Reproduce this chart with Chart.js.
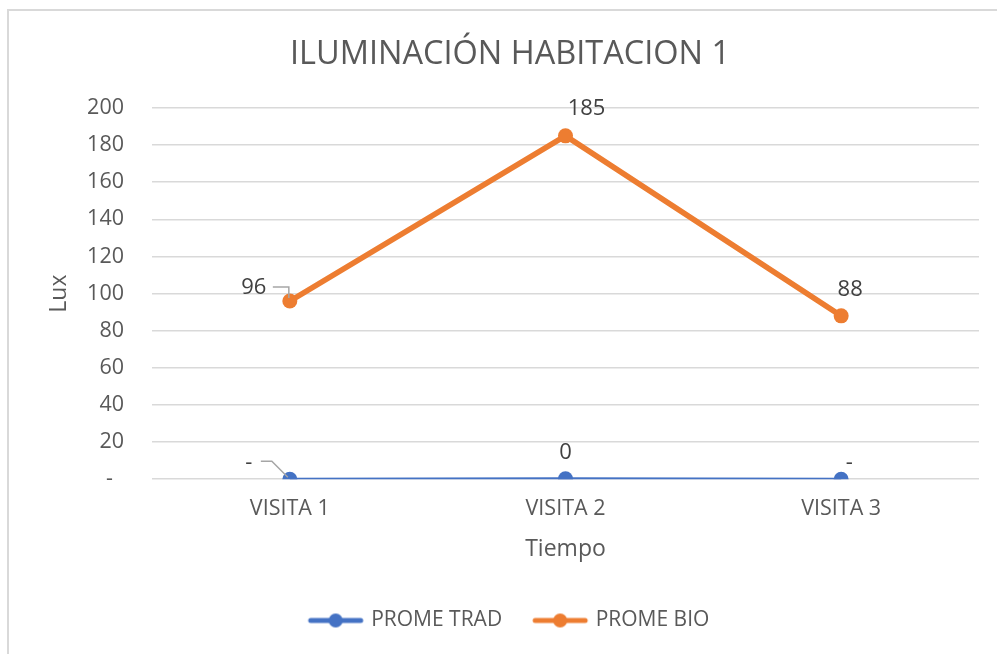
<!DOCTYPE html>
<html>
<head>
<meta charset="utf-8">
<script src="https://cdn.jsdelivr.net/npm/chart.js@4"></script>
<style>
    html, body { margin: 0; padding: 0; background: #fff; overflow: hidden; }
    #chart { display: block; }
</style>
</head>
<body>
<canvas id="chart" width="1012" height="654"></canvas>
<script>
const categories = ['VISITA 1', 'VISITA 2', 'VISITA 3'];
const promeTrad = [0, 0.2, 0];
const promeBio = [96, 185, 88];
const seriesNames = ['PROME TRAD', 'PROME BIO'];

const BLUE = '#4472C4';
const ORANGE = '#ED7D31';
const TEXT = '#595959';
const FONT = "'Open Sans', sans-serif";

// Accounting-style number: zero shows as a dash
const fmt = v => v === 0 ? '-' : String(Math.round(v));

// Legend swatch: short line with a dot in the middle
function legendSwatch(color) {
    const c = document.createElement('canvas');
    c.width = 58;
    c.height = 16;
    const ctx = c.getContext('2d');
    ctx.strokeStyle = color;
    ctx.lineWidth = 5;
    ctx.lineCap = 'round';
    ctx.beginPath();
    ctx.moveTo(4, 8);
    ctx.lineTo(54, 8);
    ctx.stroke();
    ctx.fillStyle = color;
    ctx.beginPath();
    ctx.arc(29, 8, 7, 0, Math.PI * 2);
    ctx.fill();
    return c;
}

// Chart frame (thin grey border, top and left)
const framePlugin = {
    id: 'frame',
    beforeDraw(chart) {
        const ctx = chart.ctx;
        ctx.save();
        ctx.fillStyle = '#fff';
        ctx.fillRect(0, 0, chart.width, chart.height);
        ctx.strokeStyle = '#d9d9d9';
        ctx.lineWidth = 2;
        ctx.beginPath();
        ctx.moveTo(8, chart.height);
        ctx.lineTo(8, 10);
        ctx.lineTo(chart.width, 10);
        ctx.stroke();
        ctx.restore();
    }
};

// Value labels next to points, with optional leader lines
const valueLabels = {
    id: 'valueLabels',
    afterDatasetsDraw(chart, args, opts) {
        const ctx = chart.ctx;
        ctx.save();
        ctx.font = opts.font;
        ctx.fillStyle = opts.color;
        ctx.textAlign = 'center';
        ctx.textBaseline = 'middle';
        chart.data.datasets.forEach((ds, di) => {
            const meta = chart.getDatasetMeta(di);
            meta.data.forEach((pt, i) => {
                const place = opts.places[di][i];
                ctx.fillText(fmt(ds.data[i]), pt.x + place.dx, pt.y + place.dy);
                if (place.leader) {
                    ctx.strokeStyle = '#a6a6a6';
                    ctx.lineWidth = 1.5;
                    ctx.beginPath();
                    place.leader.forEach((p, k) => {
                        const fn = k === 0 ? 'moveTo' : 'lineTo';
                        ctx[fn](pt.x + p[0], pt.y + p[1]);
                    });
                    ctx.stroke();
                }
            });
        });
        ctx.restore();
    }
};

new Chart(document.getElementById('chart'), {
    type: 'line',
    data: {
        labels: categories,
        datasets: [{
            label: seriesNames[0],
            data: promeTrad,
            borderColor: BLUE,
            backgroundColor: BLUE,
            borderWidth: 3,
            pointRadius: 7.5,
            pointBorderWidth: 0,
            tension: 0
        }, {
            label: seriesNames[1],
            data: promeBio,
            borderColor: ORANGE,
            backgroundColor: ORANGE,
            borderWidth: 5.5,
            pointRadius: 7.5,
            pointBorderWidth: 0,
            tension: 0
        }]
    },
    options: {
        responsive: false,
        animation: false,
        layout: {
            padding: { top: 10, left: 8, right: 0, bottom: 13 }
        },
        scales: {
            x: {
                offset: true,
                grid: { display: false, drawTicks: false },
                border: { display: false },
                ticks: {
                    color: TEXT,
                    font: { family: FONT, size: 21.5 },
                    padding: 17
                },
                title: {
                    display: true,
                    text: 'Tiempo',
                    color: TEXT,
                    font: { family: FONT, size: 23 },
                    padding: { top: 0, bottom: 14 }
                },
                afterFit: s => { s.height = 97.8; }
            },
            y: {
                min: 0,
                max: 200,
                grid: {
                    color: '#d9d9d9',
                    lineWidth: 1.6,
                    drawTicks: false
                },
                border: { display: false },
                ticks: {
                    stepSize: 20,
                    color: TEXT,
                    font: { family: FONT, size: 21.5 },
                    padding: 28,
                    callback: v => v === 0 ? '-  ' : v
                },
                title: {
                    display: true,
                    text: 'Lux',
                    color: TEXT,
                    font: { family: FONT, size: 23 },
                    padding: { top: 38, bottom: 0 }
                },
                afterFit: s => { s.width = 144; }
            },
            // empty right-hand gutter so the plot stops short of the frame edge
            gutter: {
                type: 'linear',
                position: 'right',
                display: true,
                grid: { display: false, drawTicks: false },
                border: { display: false },
                ticks: { display: false },
                afterFit: s => { s.width = 33; }
            }
        },
        plugins: {
            title: {
                display: true,
                text: 'ILUMINACIÓN HABITACION 1',
                color: TEXT,
                font: { family: FONT, size: 32.5, weight: 'normal' },
                padding: { top: 25.5, bottom: 33.5 }
            },
            legend: {
                position: 'bottom',
                labels: {
                    usePointStyle: true,
                    pointStyleWidth: 50,
                    color: TEXT,
                    font: { family: FONT, size: 21 },
                    padding: 33,
                    generateLabels: chart => chart.data.datasets.map((ds, i) => ({
                        text: ds.label,
                        pointStyle: legendSwatch(ds.borderColor),
                        fontColor: TEXT,
                        datasetIndex: i,
                        hidden: false,
                        lineWidth: 0
                    }))
                }
            },
            tooltip: { enabled: false },
            valueLabels: {
                font: '22px ' + FONT,
                color: '#404040',
                places: [
                    [
                        { dx: -41, dy: -16, leader: [[-29, -18], [-18, -18], [-2, -2]] },
                        { dx: 0, dy: -26 },
                        { dx: 8, dy: -16 }
                    ],
                    [
                        { dx: -36, dy: -13, leader: [[-17, -14], [-1, -14], [-1, -3]] },
                        { dx: 21, dy: -27 },
                        { dx: 9, dy: -26 }
                    ]
                ]
            }
        }
    },
    plugins: [framePlugin, valueLabels]
});
</script>
</body>
</html>
